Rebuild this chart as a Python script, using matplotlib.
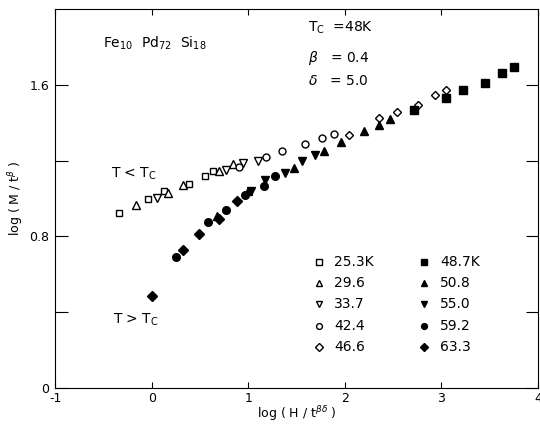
import matplotlib
matplotlib.use("Agg")
import matplotlib.pyplot as plt

plt.rcParams['font.family'] = ['DejaVu Sans']
plt.rcParams['mathtext.fontset'] = 'dejavusans'

# T < Tc (open symbols)
sq_x = [-0.34, -0.04, 0.13, 0.39, 0.55, 0.64]
sq_y = [0.925, 0.995, 1.04, 1.077, 1.117, 1.146]
tu_x = [-0.16, 0.17, 0.32, 0.70, 0.84]
tu_y = [0.967, 1.03, 1.07, 1.147, 1.18]
td_x = [0.06, 0.77, 0.95, 1.10]
td_y = [1.00, 1.15, 1.186, 1.20]
ci_x = [0.90, 1.18, 1.35, 1.59, 1.76, 1.89]
ci_y = [1.165, 1.217, 1.249, 1.29, 1.317, 1.34]
di_x = [2.04, 2.36, 2.54, 2.76, 2.93, 3.05]
di_y = [1.333, 1.425, 1.458, 1.495, 1.545, 1.57]

# T > Tc (filled symbols)
fsq_x = [2.72, 3.05, 3.23, 3.45, 3.63, 3.75]
fsq_y = [1.467, 1.53, 1.57, 1.61, 1.66, 1.695]
ftu_x = [0.68, 1.00, 1.47, 1.79, 1.96, 2.20, 2.36, 2.47]
ftu_y = [0.905, 1.04, 1.16, 1.25, 1.30, 1.354, 1.39, 1.419]
ftd_x = [1.03, 1.17, 1.38, 1.56, 1.69]
ftd_y = [1.04, 1.098, 1.135, 1.197, 1.23]
fci_x = [0.25, 0.58, 0.77, 0.97, 1.16, 1.28]
fci_y = [0.69, 0.875, 0.94, 1.02, 1.068, 1.12]
fdi_x = [0.007, 0.32, 0.49, 0.70, 0.88]
fdi_y = [0.484, 0.73, 0.81, 0.893, 0.986]

open_labels = ['25.3K', '29.6', '33.7', '42.4', '46.6']
filled_labels = ['48.7K', '50.8', '55.0', '59.2', '63.3']
markers = ['s', '^', 'v', 'o', 'D']
sizes = [5, 5.5, 5.5, 5, 4.5]

fig = plt.figure(figsize=(5.4, 4.25), dpi=100)
ax = fig.add_axes([0.102, 0.087, 0.894, 0.892])

open_sets = [(sq_x, sq_y), (tu_x, tu_y), (td_x, td_y), (ci_x, ci_y), (di_x, di_y)]
filled_sets = [(fsq_x, fsq_y), (ftu_x, ftu_y), (ftd_x, ftd_y), (fci_x, fci_y), (fdi_x, fdi_y)]

for (x, y), m, s in zip(open_sets, markers, sizes):
    ax.plot(x, y, ls='none', marker=m, ms=s, mfc='white', mec='black', mew=1.0)
for (x, y), m, s in zip(filled_sets, markers, sizes):
    ax.plot(x, y, ls='none', marker=m, ms=s + 0.5, mfc='black', mec='black', mew=1.0)

# legend drawn by hand, two columns
for i in range(5):
    yy = 0.665 - i * 0.112
    ax.plot([1.73], [yy], ls='none', marker=markers[i], ms=sizes[i] - 0.8,
            mfc='white', mec='black', mew=1.0)
    ax.text(1.89, yy, open_labels[i], fontsize=10, va='center')
    ax.plot([2.82], [yy], ls='none', marker=markers[i], ms=sizes[i] - 0.8,
            mfc='black', mec='black', mew=1.0)
    ax.text(2.99, yy, filled_labels[i], fontsize=10, va='center')

ax.text(-0.5, 1.82, r'Fe$_{10}$  Pd$_{72}$  Si$_{18}$', fontsize=10, va='center')
ax.text(1.62, 1.90, r'T$_{\rm C}$  =48K', fontsize=10, va='center')
ax.text(1.62, 1.74, r'$\beta$   = 0.4', fontsize=10, va='center')
ax.text(1.62, 1.62, r'$\delta$   = 5.0', fontsize=10, va='center')
ax.text(-0.42, 1.13, r'T < T$_{\rm C}$', fontsize=10, va='center')
ax.text(-0.40, 0.36, r'T > T$_{\rm C}$', fontsize=10, va='center')

ax.set_xlim(-1, 4)
ax.set_ylim(0, 2.0)
ax.set_xticks([-1, 0, 1, 2, 3, 4])
ax.set_xticklabels(['-1', '0', '1', '2', '3', '4'])
ax.set_yticks([0, 0.4, 0.8, 1.2, 1.6])
ax.set_yticklabels(['0', '', '0.8', '', '1.6'])
ax.tick_params(axis='x', direction='in', length=4, top=True, labelsize=9, pad=3)
ax.tick_params(axis='y', direction='in', length=9, right=True, labelsize=9, pad=4)

ax.set_xlabel(r'log ( H / t$^{\beta\delta}$ )', fontsize=9, labelpad=-1)
ax.set_ylabel(r'log ( M / t$^{\beta}$ )', fontsize=9, labelpad=3)

fig.savefig('out.png', dpi=100)
